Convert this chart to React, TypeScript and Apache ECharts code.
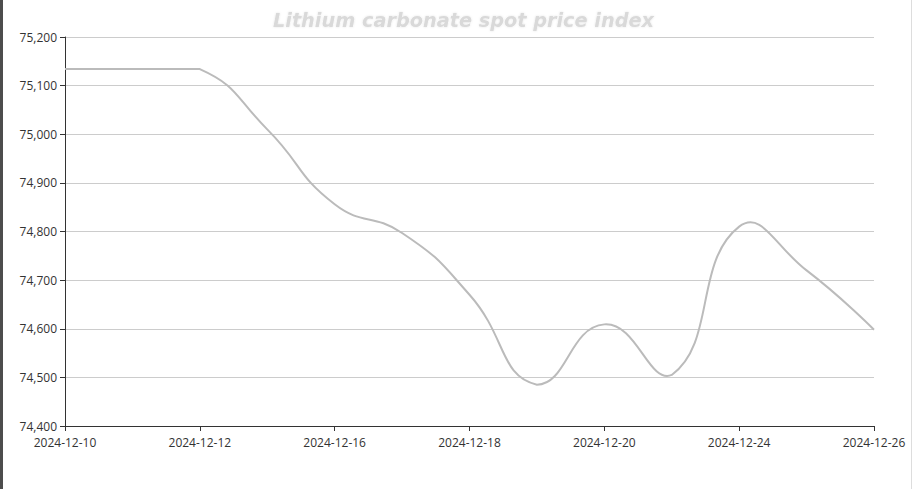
import React, { useEffect, useRef } from "react";
import * as echarts from "echarts";

const categories = [
  "2024-12-10", "2024-12-11", "2024-12-12", "2024-12-13", "2024-12-16",
  "2024-12-17", "2024-12-18", "2024-12-19", "2024-12-20", "2024-12-23",
  "2024-12-24", "2024-12-25", "2024-12-26",
];
const priceValues = [
  75134, 75134, 75134, 75010, 74856, 74797, 74670, 74485, 74609, 74505,
  74810, 74720, 74598,
];
const titleText = "Lithium carbonate spot price index";

// Classic (ECharts 4 style) bezier smoothing with bounding-box constraint
function smoothPath(pts: number[][], smooth: number): string {
  const n = pts.length;
  if (n < 2) return "";
  let minX = Infinity, minY = Infinity, maxX = -Infinity, maxY = -Infinity;
  pts.forEach(([x, y]) => {
    minX = Math.min(minX, x); maxX = Math.max(maxX, x);
    minY = Math.min(minY, y); maxY = Math.max(maxY, y);
  });
  const clamp = (p: number[]) => [
    Math.min(Math.max(p[0], minX), maxX),
    Math.min(Math.max(p[1], minY), maxY),
  ];
  const cps: number[][] = [];
  for (let i = 0; i < n; i++) {
    const p = pts[i];
    if (i === 0 || i === n - 1) {
      cps.push([p[0], p[1]]);
      continue;
    }
    const prev = pts[i - 1];
    const next = pts[i + 1];
    const vx = (next[0] - prev[0]) * smooth;
    const vy = (next[1] - prev[1]) * smooth;
    let d0 = Math.hypot(p[0] - prev[0], p[1] - prev[1]);
    let d1 = Math.hypot(p[0] - next[0], p[1] - next[1]);
    const sum = d0 + d1;
    if (sum !== 0) { d0 /= sum; d1 /= sum; }
    cps.push(clamp([p[0] - vx * d0, p[1] - vy * d0]));
    cps.push(clamp([p[0] + vx * d1, p[1] + vy * d1]));
  }
  let d = `M${pts[0][0]},${pts[0][1]}`;
  for (let i = 1; i < n; i++) {
    const c1 = cps[(i - 1) * 2];
    const c2 = cps[(i - 1) * 2 + 1];
    d += ` C${c1[0]},${c1[1]} ${c2[0]},${c2[1]} ${pts[i][0]},${pts[i][1]}`;
  }
  return d;
}

export default function App() {
  const ref = useRef<HTMLDivElement>(null);
  useEffect(() => {
    if (!ref.current) return;
    const chart = echarts.init(ref.current, null, { renderer: "svg" });
    chart.setOption({
      animation: false,
      title: {
        text: titleText,
        left: 268,
        top: 6,
        textStyle: {
          fontFamily: "DejaVu Sans, sans-serif",
          fontStyle: "italic",
          fontWeight: "bold",
          fontSize: 19.3,
          color: "#d9d9d9",
          textShadowColor: "rgba(0,0,0,0.10)",
          textShadowBlur: 2,
        },
      },
      grid: { left: 65, right: 38, top: 37, bottom: 63, containLabel: false },
      xAxis: {
        type: "category",
        data: categories,
        boundaryGap: false,
        axisLine: { lineStyle: { color: "#333" } },
        axisTick: { interval: 1, lineStyle: { color: "#333" } },
        axisLabel: {
          interval: 1,
          color: "#333",
          fontSize: 12,
          margin: 10,
          fontFamily: "Open Sans, sans-serif",
        },
        splitLine: { show: false },
      },
      yAxis: {
        type: "value",
        min: 74400,
        max: 75200,
        interval: 100,
        axisLine: { show: true, lineStyle: { color: "#333" } },
        axisTick: { show: true, lineStyle: { color: "#333" } },
        axisLabel: {
          color: "#333",
          fontSize: 12,
          fontFamily: "Open Sans, sans-serif",
          formatter: (v: number) => v.toLocaleString("en-US"),
        },
        splitLine: { lineStyle: { color: "#ccc" } },
      },
      series: [
        {
          type: "custom",
          data: priceValues.map((v, i) => [i, v]),
          encode: { x: 0, y: 1 },
          renderItem: (params: any, api: any) => {
            if (params.dataIndex !== 0) return null;
            const pts = priceValues.map((v, i) => api.coord([i, v]));
            return {
              type: "path",
              shape: { pathData: smoothPath(pts, 0.5) },
              style: { stroke: "#bbb", lineWidth: 2, fill: "none" },
            };
          },
        },
      ],
    });
    return () => chart.dispose();
  }, []);
  return (
    <div style={{ position: "fixed", left: 0, top: 0, width: 912, height: 489, background: "#fff" }}>
      <div ref={ref} style={{ position: "absolute", left: 0, top: 0, width: 912, height: 489 }} />
      <div style={{ position: "absolute", left: 0, top: 0, width: 3, height: 489, background: "#4d4d4d" }} />
      <div style={{ position: "absolute", right: 0, top: 0, width: 1, height: 489, background: "#ddd" }} />
    </div>
  );
}
